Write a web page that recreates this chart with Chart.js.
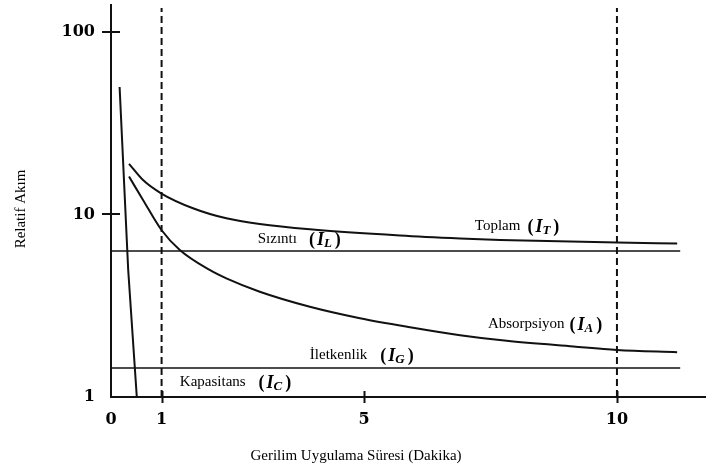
<!DOCTYPE html>
<html><head><meta charset="utf-8">
<script src="https://cdn.jsdelivr.net/npm/chart.js@4.4.0/dist/chart.umd.min.js"></script>
<style>html,body{margin:0;padding:0;background:#fff}#wrap{width:706px;height:472px;position:relative}</style>
</head><body><div id="wrap"><canvas id="c"></canvas></div>
<script>
// ---- data ----
const xTickValues = [0, 1, 5, 10];
const yTickValues = [1, 10, 100];
const totalX = [0.356, 0.633, 0.997, 1.62, 2.28, 2.94, 3.93, 5.71, 6.90, 7.69, 10.0, 11.19];
const totalY = [18.9, 15.4, 13.0, 10.8, 9.51, 8.85, 8.28, 7.66, 7.38, 7.24, 7.01, 6.93];
const absX = [0.356, 0.633, 0.997, 1.36, 1.95, 2.28, 2.94, 3.93, 4.92, 5.91, 6.90, 7.82, 9.14, 10.0, 11.19];
const absY = [16.1, 11.99, 8.21, 6.38, 4.96, 4.46, 3.77, 3.12, 2.70, 2.41, 2.18, 2.03, 1.89, 1.81, 1.76];
const capX = [0.17, 0.34, 0.51];
const capY = [49.8, 4.96, 1.0];
const leakX = [0, 11.25];
const leakY = [6.30, 6.30];
const condX = [0, 11.25];
const condY = [1.44, 1.44];
const markerX = [1, 10];
const markerY = [1, 135];
const labelNames = ['Toplam', 'Sızıntı', 'Absorpsiyon', 'İletkenlik', 'Kapasitans'];
const labelSubs = ['T', 'L', 'A', 'G', 'C'];
const labelX = [7.19, 2.90, 7.45, 3.93, 1.36];
const labelY = [8.63, 7.33, 2.51, 1.70, 1.21];
const labelGap = [7, 12, 5, 13, 13];
const xTitle = 'Gerilim Uygulama Süresi (Dakika)';
const yTitle = 'Relatif Akım';

const pts = (xs, ys) => xs.map((x, i) => ({x: x, y: ys[i]}));
const INK = '#111';
const curve = (d) => ({data: d, borderColor: INK, borderWidth: 2, pointRadius: 0, fill: false, cubicInterpolationMode: 'monotone'});
const straight = (d, w) => ({data: d, borderColor: INK, borderWidth: w, pointRadius: 0, fill: false, tension: 0});

const datasets = [
  curve(pts(totalX, totalY)),
  curve(pts(absX, absY)),
  straight(pts(capX, capY), 2),
  straight(pts(leakX, leakY), 1.6),
  straight(pts(condX, condY), 1.6)
];
markerX.forEach(mx => {
  const d = straight(pts([mx, mx], markerY), 2);
  d.borderDash = [7, 4];
  datasets.push(d);
});

const decor = {
  id: 'decor',
  afterDraw(chart) {
    const ctx = chart.ctx, xs = chart.scales.x, ys = chart.scales.y, a = chart.chartArea;
    ctx.save();
    ctx.strokeStyle = INK; ctx.lineWidth = 2;
    yTickValues.slice(1).forEach(v => {
      const py = Math.round(ys.getPixelForValue(v));
      ctx.beginPath(); ctx.moveTo(a.left - 9, py); ctx.lineTo(a.left + 9, py); ctx.stroke();
    });
    xTickValues.slice(1).forEach(v => {
      const px = Math.round(xs.getPixelForValue(v)) + 0.5;
      ctx.beginPath(); ctx.moveTo(px, a.bottom - 6); ctx.lineTo(px, a.bottom + 6); ctx.stroke();
    });
    ctx.fillStyle = '#000';
    ctx.textBaseline = 'middle'; ctx.textAlign = 'left';
    labelNames.forEach((name, i) => {
      let px = xs.getPixelForValue(labelX[i]);
      const py = ys.getPixelForValue(labelY[i]);
      ctx.font = '15px "Liberation Serif"';
      ctx.fillText(name, px, py);
      px += ctx.measureText(name).width + labelGap[i];
      ctx.font = 'bold 18px "Liberation Serif"';
      ctx.fillText('(', px, py + 1); px += ctx.measureText('(').width + 2;
      ctx.font = 'italic bold 18px "Liberation Serif"';
      ctx.fillText('I', px, py + 1); px += ctx.measureText('I').width;
      ctx.font = 'italic bold 13px "Liberation Serif"';
      ctx.fillText(labelSubs[i], px, py + 5); px += ctx.measureText(labelSubs[i]).width + 3;
      ctx.font = 'bold 18px "Liberation Serif"';
      ctx.fillText(')', px, py + 1);
    });
    ctx.font = '15px "Liberation Serif"';
    ctx.textAlign = 'center';
    ctx.fillText(xTitle, 356, 456);
    ctx.translate(21, 209); ctx.rotate(-Math.PI / 2);
    ctx.fillText(yTitle, 0, 0);
    ctx.restore();
  }
};

const tickFont = {family: '"DejaVu Serif"', size: 16, weight: 'bold'};
new Chart(document.getElementById('c'), {
  type: 'line',
  data: {datasets: datasets},
  options: {
    responsive: true, maintainAspectRatio: false, animation: false,
    layout: {padding: {top: 5, right: 0, left: 0, bottom: 0}},
    plugins: {legend: {display: false}, tooltip: {enabled: false}},
    scales: {
      x: {
        type: 'linear', min: 0, max: 11.76,
        afterBuildTicks: s => { s.ticks = xTickValues.map(v => ({value: v})); },
        afterFit: s => { s.height = 75; s.paddingLeft = 0; s.paddingRight = 0; },
        ticks: {autoSkip: false, maxRotation: 0, padding: 13, color: '#000', font: tickFont, callback: v => String(v)},
        grid: {display: false, drawTicks: false},
        border: {display: true, color: INK, width: 2}
      },
      y: {
        type: 'logarithmic', min: 1, max: 140,
        afterBuildTicks: s => { s.ticks = yTickValues.map(v => ({value: v})); },
        afterFit: s => { s.width = 111; s.paddingTop = 0; s.paddingBottom = 0; },
        ticks: {autoSkip: false, padding: 16, color: '#000', font: tickFont, callback: v => String(v)},
        grid: {display: false, drawTicks: false},
        border: {display: true, color: INK, width: 2}
      }
    }
  },
  plugins: [decor]
});
</script></body></html>
